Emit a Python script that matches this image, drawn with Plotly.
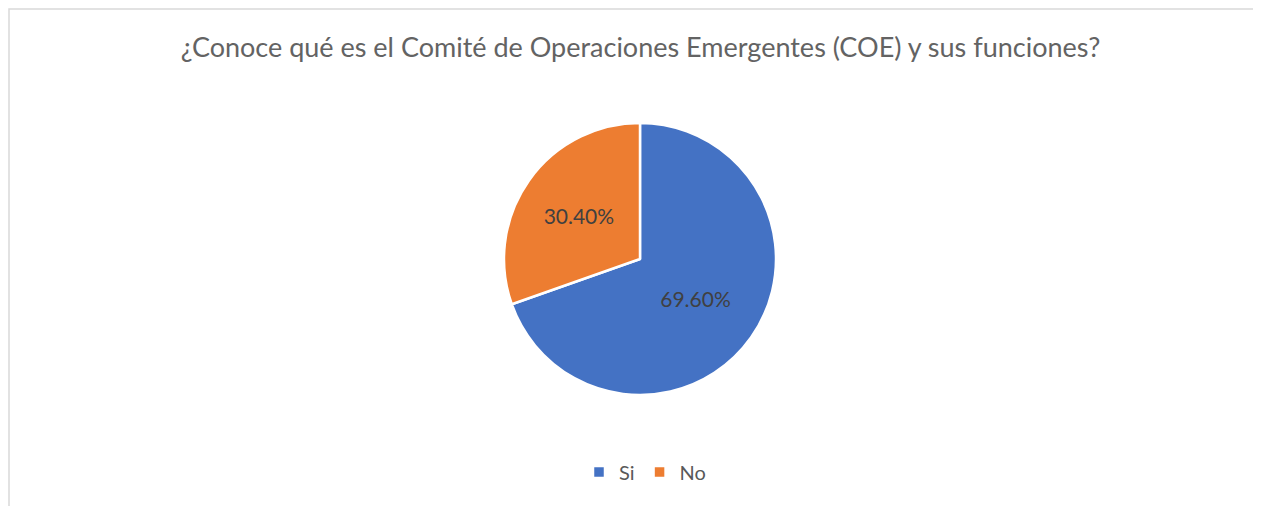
import plotly.graph_objects as go

# page body has an 8px margin; the figure is laid out in reference pixels minus 8
OFF = 8
W, H = 1261 - OFF, 506 - OFF

labels = ["Si", "No"]
values = [69.6, 30.4]
text_labels = ["69.60%", "30.40%"]
colors = ["#4472C4", "#ED7D31"]
title_text = "¿Conoce qué es el Comité de Operaciones Emergentes (COE) y sus funciones?"


def px(x):
    return (x - OFF) / W


def py(y):
    return 1 - (y - OFF) / H


cx, cy, r = 640, 259, 136

fig = go.Figure(go.Pie(
    labels=labels,
    values=values,
    text=text_labels,
    textinfo="text",
    textposition="inside",
    insidetextorientation="horizontal",
    textfont=dict(family="Lato", size=21, color="#404040"),
    marker=dict(colors=colors, line=dict(color="white", width=2.5)),
    sort=False,
    direction="clockwise",
    rotation=0,
    domain=dict(x=[px(cx - r), px(cx + r)], y=[py(cy + r), py(cy - r)]),
    hoverinfo="label+percent",
))

fig.update_layout(
    width=W, height=H,
    margin=dict(l=0, r=0, t=0, b=0),
    paper_bgcolor="white",
    plot_bgcolor="white",
    title=dict(text=title_text, x=px(640.5), xanchor="center", y=py(48), yanchor="middle",
               xref="paper", yref="paper",
               font=dict(family="Lato", size=27, color="#636363")),
    showlegend=True,
    legend=dict(orientation="h", x=px(645), xanchor="center", y=py(472), yanchor="middle",
                font=dict(family="Lato", size=20, color="#595959"), itemclick=False),
    shapes=[dict(type="rect", xref="paper", yref="paper", x0=1 / W, x1=1.05, y0=-0.05, y1=py(9),
                 line=dict(color="#D9D9D9", width=1.5), fillcolor="rgba(0,0,0,0)", layer="below")],
)

fig.write_html("out.html")
